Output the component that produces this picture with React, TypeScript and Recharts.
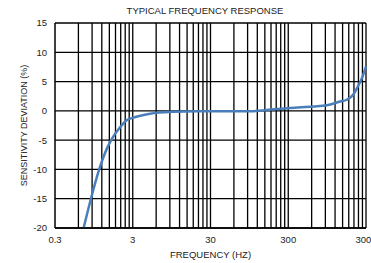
import React from "react";
import { LineChart, Line, XAxis, YAxis, CartesianGrid, ReferenceLine } from "recharts";

const frequencies = [0.7, 0.87, 1.11, 1.3, 1.58, 2.06, 2.5, 3, 5, 10, 20, 50, 100, 160, 316, 625, 940, 1400, 1700, 2060, 2300, 2700, 3000];
const deviations = [-20, -15, -10, -7.4, -5, -2.8, -1.6, -1.2, -0.5, -0.15, -0.05, -0.05, -0.05, 0.15, 0.5, 0.75, 0.95, 1.6, 1.9, 2.8, 3.9, 5.8, 7.6];

const xTicks = [0.3, 3, 30, 300, 3000];
const xTickLabels = ["0.3", "3", "30", "300", "3000"];
const yTicks = [-20, -15, -10, -5, 0, 5, 10, 15];
const decadeStarts = [0.3, 3, 30, 300];
const gridMultipliers = [2, 3, 4, 5, 6, 7, 8, 9, 10];

const data = frequencies.map((f, i) => ({ f, v: deviations[i] }));
const gridValues = decadeStarts.flatMap((d) => gridMultipliers.map((m) => +(d * m).toPrecision(6)));

const font = "'Liberation Sans', Arial, sans-serif";

export default function App() {
  return (
    <div style={{ position: "absolute", left: 0, top: 0, width: 371, height: 263, background: "#fff", fontFamily: font }}>
      <LineChart width={371} height={263} data={data} margin={{ top: 23, right: 5, left: 0, bottom: 0 }}>
        <CartesianGrid vertical={false} stroke="#000" strokeWidth={1.3} />
        {gridValues.map((g) => (
          <ReferenceLine key={g} x={g} stroke="#000" strokeWidth={1.3} />
        ))}
        <XAxis
          dataKey="f"
          type="number"
          scale="log"
          domain={[0.3, 3000]}
          ticks={xTicks}
          tickFormatter={(v: number) => xTickLabels[xTicks.findIndex((t) => Math.abs(t - v) < 1e-9)] ?? String(v)}
          tickLine={false}
          axisLine={{ stroke: "#000", strokeWidth: 1.5 }}
          height={35}
          tick={{ fill: "#222", fontSize: 9.5, fontFamily: font }}
          interval={0}
        />
        <YAxis
          type="number"
          domain={[-20, 15]}
          ticks={yTicks}
          tickLine={false}
          axisLine={{ stroke: "#000", strokeWidth: 1.5 }}
          width={55}
          tick={{ fill: "#222", fontSize: 9.5, fontFamily: font }}
          interval={0}
        />
        <Line dataKey="v" type="monotone" stroke="#4a7ebb" strokeWidth={2.5} dot={false} isAnimationActive={false} />
      </LineChart>
      <svg width={371} height={263} style={{ position: "absolute", left: 0, top: 0, pointerEvents: "none" }}>
        <text x={205} y={13.5} textAnchor="middle" fontSize={9.5} fill="#222" fontFamily={font}>TYPICAL FREQUENCY RESPONSE</text>
        <text x={210.5} y={257.5} textAnchor="middle" fontSize={9.5} fill="#222" fontFamily={font}>FREQUENCY (HZ)</text>
        <text x={26.5} y={125.5} textAnchor="middle" fontSize={9} fill="#222" fontFamily={font} transform="rotate(-90 26.5 125.5)">SENSITIVITY DEVIATION (%)</text>
      </svg>
    </div>
  );
}
